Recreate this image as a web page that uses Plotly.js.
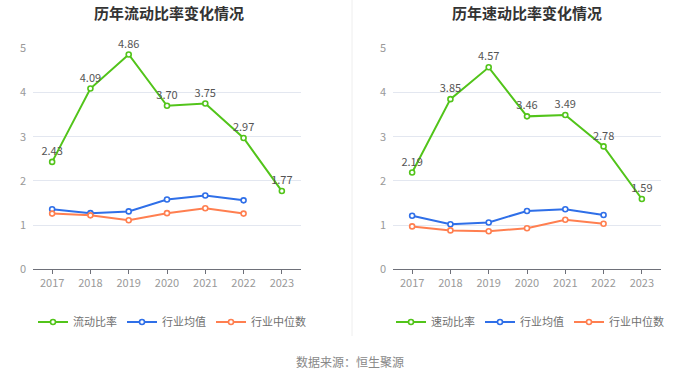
<!DOCTYPE html>
<html>
<head>
<meta charset="utf-8">
<script src="https://cdn.plot.ly/plotly-3.0.1.min.js"></script>
<style>html,body{margin:0;padding:0;background:#fff;}#chart{width:700px;height:378px;}</style>
</head>
<body>
<div id="chart"></div>
<script>
var years = ['2017','2018','2019','2020','2021','2022','2023'];
var currentRatio = [2.43, 4.09, 4.86, 3.70, 3.75, 2.97, 1.77];
var currentAvg = [1.36, 1.27, 1.31, 1.58, 1.67, 1.56, null];
var currentMedian = [1.26, 1.22, 1.11, 1.27, 1.38, 1.26, null];
var quickRatio = [2.19, 3.85, 4.57, 3.46, 3.49, 2.78, 1.59];
var quickAvg = [1.21, 1.02, 1.06, 1.32, 1.36, 1.23, null];
var quickMedian = [0.97, 0.88, 0.86, 0.93, 1.12, 1.03, null];
var titles = ['历年流动比率变化情况', '历年速动比率变化情况'];
var mainNames = ['流动比率', '速动比率'];
var avgName = '行业均值';
var medName = '行业中位数';
var source = '数据来源：恒生聚源';

var FONT = '"Noto Sans CJK SC", "Noto Sans", sans-serif';
var GREEN = '#52c41a', BLUE = '#2f6fe8', ORANGE = '#ff7f50';

function fmt(v){ return v.toFixed(2); }

function series(vals, name, color, xa, ya, lg, withText){
  var t = {
    x: years, y: vals, name: name, xaxis: xa, yaxis: ya, legend: lg,
    type: 'scatter', mode: withText ? 'lines+markers+text' : 'lines+markers',
    line: {color: color, width: 2},
    marker: {symbol: 'circle', size: 5, color: '#fff', line: {color: color, width: 1.6}},
    cliponaxis: false, hoverinfo: 'skip'
  };
  if (withText){
    t.text = vals.map(fmt);
    t.textposition = 'top center';
    t.textfont = {family: FONT, size: 11, color: '#555'};
  }
  return t;
}

var data = [
  series(currentRatio, mainNames[0], GREEN, 'x', 'y', 'legend', true),
  series(currentAvg, avgName, BLUE, 'x', 'y', 'legend', false),
  series(currentMedian, medName, ORANGE, 'x', 'y', 'legend', false),
  series(quickRatio, mainNames[1], GREEN, 'x2', 'y2', 'legend2', true),
  series(quickAvg, avgName, BLUE, 'x2', 'y2', 'legend2', false),
  series(quickMedian, medName, ORANGE, 'x2', 'y2', 'legend2', false)
];

function xax(dom, anchor){
  return {domain: dom, anchor: anchor, type: 'category', range: [-0.5, 6.5],
    showline: true, linecolor: '#6e7079', linewidth: 1, ticks: 'outside', ticklen: 4, tickcolor: '#6e7079',
    showgrid: false, zeroline: false, fixedrange: true,
    tickfont: {family: FONT, size: 11, color: '#999'}};
}
function yax(anchor){
  return {domain: [0.2876, 0.8722], anchor: anchor, range: [0, 5], dtick: 1, tick0: 0,
    showgrid: true, gridcolor: '#e3e7f0', gridwidth: 1, zeroline: false, showline: false,
    ticks: '', ticklabelstandoff: 6, fixedrange: true,
    tickfont: {family: FONT, size: 11, color: '#999'}};
}
function leg(xc){
  return {orientation: 'h', x: xc, xanchor: 'center', y: 0.148, yanchor: 'middle',
    font: {family: FONT, size: 11, color: '#707070'}, itemwidth: 30,
    itemclick: false, itemdoubleclick: false, bgcolor: 'rgba(0,0,0,0)'};
}

var layout = {
  width: 700, height: 378, margin: {l: 0, r: 0, t: 0, b: 0},
  paper_bgcolor: '#fff', plot_bgcolor: '#fff',
  font: {family: FONT},
  showlegend: true,
  xaxis: xax([33/700, 301/700], 'y'),
  yaxis: yax('x'),
  xaxis2: xax([393/700, 661/700], 'y2'),
  yaxis2: yax('x2'),
  legend: leg(172/700),
  legend2: leg(530/700),
  shapes: [{type: 'line', xref: 'paper', yref: 'paper', x0: 352/700, x1: 352/700, y0: 1 - 336/378, y1: 1,
    line: {color: '#eeeeee', width: 1}}],
  annotations: [
    {text: '<b>' + titles[0] + '</b>', xref: 'paper', yref: 'paper', x: 169/700, y: 1 - 12/378, xanchor: 'center', yanchor: 'middle',
      showarrow: false, font: {family: FONT, size: 15, color: '#333'}},
    {text: '<b>' + titles[1] + '</b>', xref: 'paper', yref: 'paper', x: 527/700, y: 1 - 12/378, xanchor: 'center', yanchor: 'middle',
      showarrow: false, font: {family: FONT, size: 15, color: '#333'}},
    {text: source, xref: 'paper', yref: 'paper', x: 350/700, y: 1 - 361/378, xanchor: 'center', yanchor: 'middle',
      showarrow: false, font: {family: FONT, size: 12, color: '#888'}}
  ]
};

Plotly.newPlot('chart', data, layout, {displayModeBar: false, staticPlot: true});
</script>
</body>
</html>
